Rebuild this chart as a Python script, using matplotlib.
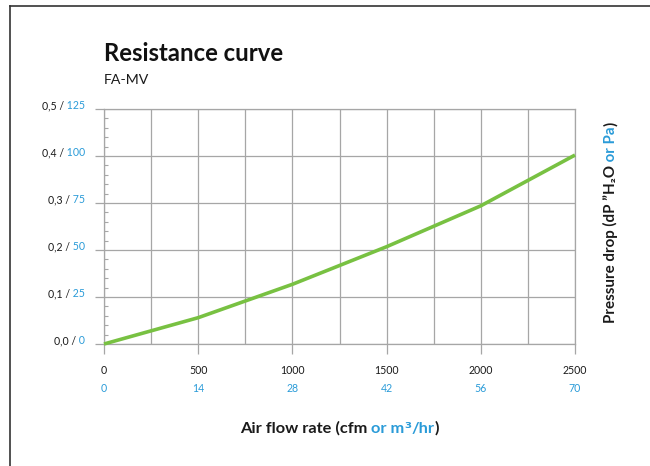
import matplotlib
matplotlib.use('Agg')
import matplotlib.pyplot as plt
from matplotlib.lines import Line2D
from matplotlib.ticker import MultipleLocator, FixedLocator, NullFormatter
from matplotlib.transforms import IdentityTransform, blended_transform_factory

plt.rcParams['font.family'] = ['Lato', 'DejaVu Sans']

GREEN = '#78c142'
BLUE = '#2a9bd8'
GRID = '#a6a6a6'
TXT = '#1a1a1a'

# data: air flow (cfm) vs pressure drop ("H2O)
airflow_cfm = [0, 500, 1000, 1500, 2000, 2500]
pressure_inwg = [0.0, 0.056, 0.127, 0.207, 0.294, 0.402]

x_ticks = [0, 500, 1000, 1500, 2000, 2500]
x_labels_cfm = ['0', '500', '1000', '1500', '2000', '2500']
x_labels_m3 = ['0', '14', '28', '42', '56', '70']
y_ticks = [0.0, 0.1, 0.2, 0.3, 0.4, 0.5]
y_labels_inwg = ['0,0', '0,1', '0,2', '0,3', '0,4', '0,5']
y_labels_pa = ['0', '25', '50', '75', '100', '125']

W, H = 650, 466
fig = plt.figure(figsize=(W / 100, H / 100), dpi=100)
ax = fig.add_axes([104 / W, 1 - 344 / H, (575 - 104) / W, (344 - 109) / H])
renderer = fig.canvas.get_renderer()
PIX = IdentityTransform()


def colored_text(x, y, parts, ha='left', rotation=0, **kw):
    # x, y = baseline anchor in pixels from top-left; parts = [(text, colour, extra kw), ...]
    arts = []
    for p in parts:
        s, c = p[0], p[1]
        extra = dict(kw)
        if len(p) > 2:
            extra.update(p[2])
        arts.append(fig.text(0, 0, s, color=c, transform=PIX, rotation=rotation,
                             rotation_mode='anchor', ha='left', va='baseline', **extra))
    sizes = []
    for a in arts:
        bb = a.get_window_extent(renderer)
        sizes.append(bb.height if rotation == 90 else bb.width)
    total = sum(sizes)
    shift = {'left': 0, 'center': total / 2, 'right': total}[ha]
    pos = -shift
    for a, s in zip(arts, sizes):
        if rotation == 90:
            a.set_position((x, H - y + pos))
        else:
            a.set_position((x + pos, H - y))
        pos += s
    return arts


ax.plot(airflow_cfm, pressure_inwg, color=GREEN, lw=2.6, solid_capstyle='butt',
        zorder=3, clip_on=False)

ax.set_xlim(0, 2500)
ax.set_ylim(0, 0.5)
ax.xaxis.set_major_locator(FixedLocator(x_ticks))
ax.xaxis.set_minor_locator(MultipleLocator(250))
ax.yaxis.set_major_locator(FixedLocator(y_ticks))
ax.yaxis.set_minor_locator(MultipleLocator(0.02))
ax.xaxis.set_major_formatter(NullFormatter())
ax.yaxis.set_major_formatter(NullFormatter())
ax.grid(True, which='major', color=GRID, lw=0.9)
ax.grid(True, which='minor', axis='x', color=GRID, lw=0.9)
ax.tick_params(axis='x', which='major', direction='out', length=7.2, width=0.9, color=GRID)
ax.tick_params(axis='x', which='minor', length=0)
ax.tick_params(axis='y', which='major', direction='out', length=6.5, width=0.9, color=GRID)
ax.tick_params(axis='y', which='minor', direction='in', length=3.0, width=0.8, color=GRID)
for sp in ax.spines.values():
    sp.set_color(GRID)
    sp.set_linewidth(0.9)

# y tick labels: "0,1 / 25"
for v, a, b in zip(y_ticks, y_labels_inwg, y_labels_pa):
    ypix = H - ax.transData.transform((0, v))[1]
    colored_text(85, ypix, [(a + ' /', TXT), (' ' + b, BLUE)], ha='right', fontsize=7.6)

# x tick labels, cfm and m3/hr
xt = blended_transform_factory(ax.transData, PIX)
for v, a, b in zip(x_ticks, x_labels_cfm, x_labels_m3):
    ax.text(v, H - 374, a, transform=xt, ha='center', va='baseline', fontsize=7.6, color=TXT)
    ax.text(v, H - 391.5, b, transform=xt, ha='center', va='baseline', fontsize=7.6, color=BLUE)

# titles
fig.text(104, H - 61, 'Resistance curve', transform=PIX, fontsize=17.2,
         fontweight='bold', color='#111111', va='baseline')
fig.text(104, H - 84, 'FA-MV', transform=PIX, fontsize=10.2, color=TXT, va='baseline')

# axis labels
colored_text(339.5, 432.7,
             [('Air flow rate (cfm', TXT), (' or m', BLUE),
              ('\u00b3', BLUE, {'family': ['DejaVu Sans']}), ('/hr', BLUE), (')', TXT)],
             ha='center', fontsize=11.8, fontweight='bold')
colored_text(615, 222.5, [('Pressure drop (dP \u201dH\u2082O', TXT), (' or Pa', BLUE), (')', TXT)],
             ha='center', rotation=90, fontsize=10.9, fontweight='bold')

# frame around the chart
fig.add_artist(Line2D([10, W], [H - 6, H - 6], transform=PIX, color='#333333', lw=1.2))
fig.add_artist(Line2D([10, 10], [H - 6, 0], transform=PIX, color='#333333', lw=1.2))

fig.savefig('out.png', dpi=100)
